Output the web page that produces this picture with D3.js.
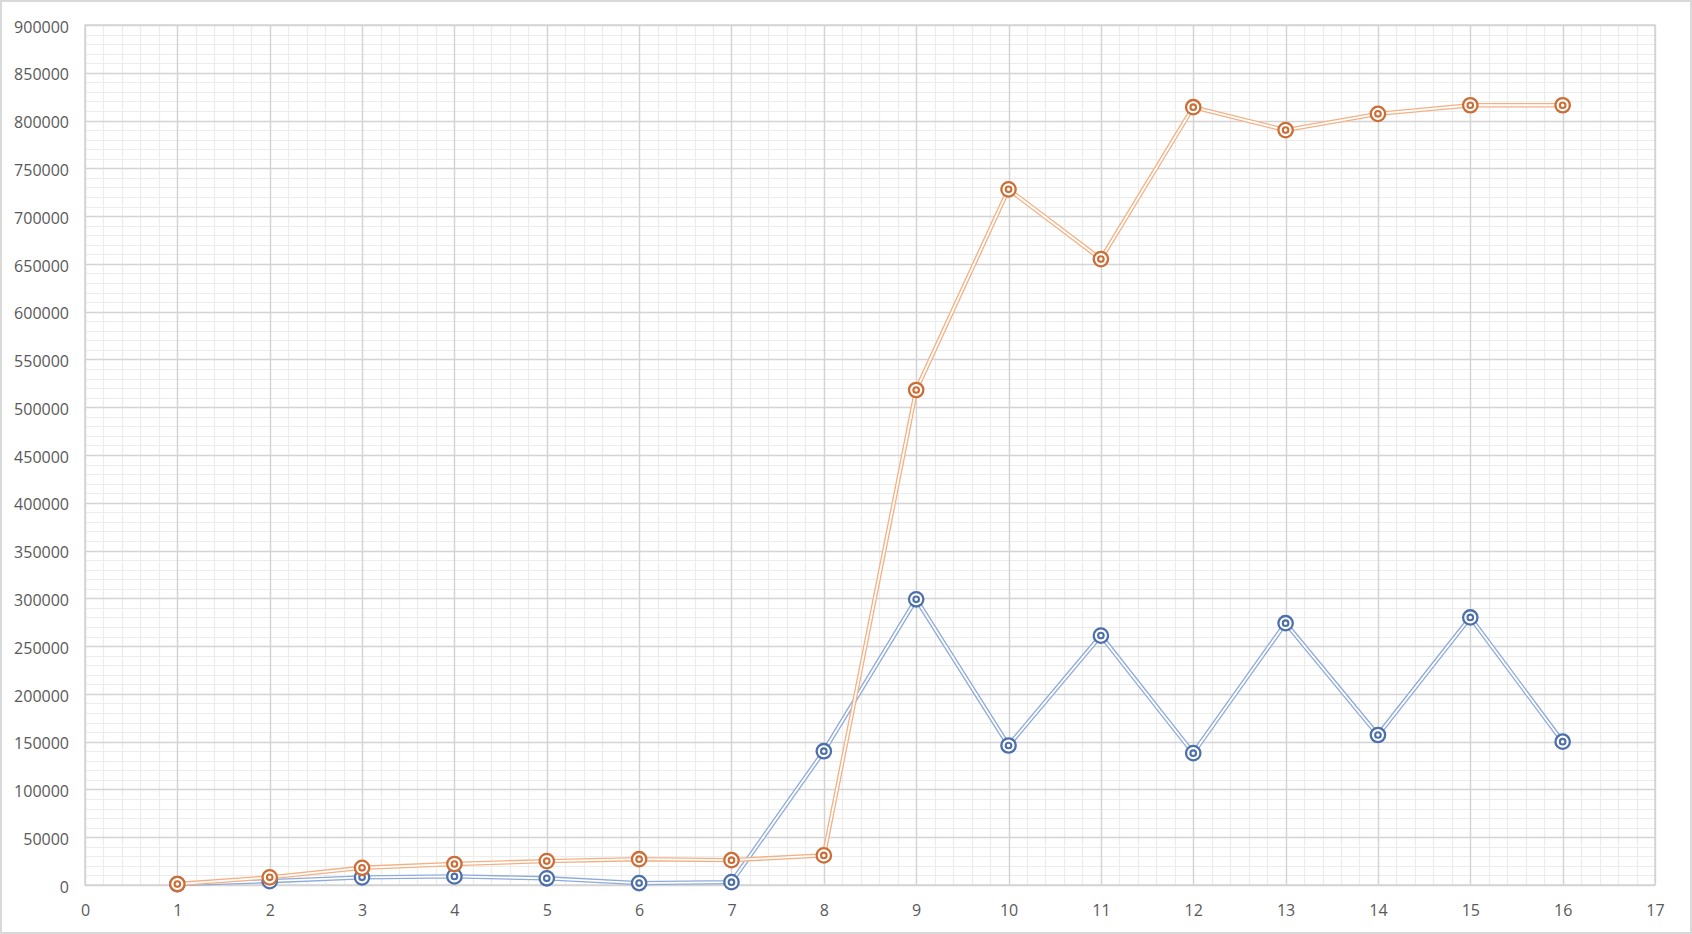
<!DOCTYPE html>
<html>
<head>
<meta charset="utf-8">
<script src="https://cdnjs.cloudflare.com/ajax/libs/d3/7.8.5/d3.min.js"></script>
<style>
  body { margin: 0; background: #fff; }
  text { font-family: "Open Sans", sans-serif; fill: #595959; }
</style>
</head>
<body>
<svg id="chart"></svg>
<script>
const W = 1692, H = 934;
const margin = {top: 25, right: 37, bottom: 49, left: 85};

// data
const xs = [1, 2, 3, 4, 5, 6, 7, 8, 9, 10, 11, 12, 13, 14, 15, 16];
const blueVals = [1000, 4000, 8000, 9000, 7000, 2000, 3000, 140000, 299000, 146000, 261000, 138000, 274000, 157000, 280000, 150000];
const orangeVals = [1000, 8000, 18000, 22000, 25000, 27000, 26000, 31000, 518000, 728000, 655000, 814000, 790000, 807000, 816000, 816000];
const xTicks = d3.range(0, 18);
const yTicks = d3.range(0, 900001, 50000);

const series = [
  {name: 'blue', vals: blueVals, line: '#8eaadb', mark: '#4d70aa'},
  {name: 'orange', vals: orangeVals, line: '#f4b084', mark: '#cd6d36'}
];

const svg = d3.select('#chart').attr('width', W).attr('height', H);

svg.append('rect')
  .attr('x', 1).attr('y', 1).attr('width', W - 2).attr('height', H - 2)
  .attr('fill', '#fff').attr('stroke', '#d9d9d9').attr('stroke-width', 2);

const x = d3.scaleLinear().domain([0, 17]).range([margin.left, W - margin.right]);
const y = d3.scaleLinear().domain([0, 900000]).range([H - margin.bottom, margin.top]);

const grid = svg.append('g');
// minor grid
grid.selectAll('.vminor').data(d3.range(0, 85).map(i => i * 0.2)).enter().append('line')
  .attr('x1', d => Math.round(x(d)) + 0.5).attr('x2', d => Math.round(x(d)) + 0.5)
  .attr('y1', y(0)).attr('y2', y(900000))
  .attr('stroke', '#ececec').attr('stroke-width', 1.2);
grid.selectAll('.hminor').data(d3.range(0, 90).map(i => i * 10000)).enter().append('line')
  .attr('y1', d => Math.round(y(d)) + 0.5).attr('y2', d => Math.round(y(d)) + 0.5)
  .attr('x1', x(0)).attr('x2', x(17))
  .attr('stroke', '#ececec').attr('stroke-width', 1.2);
// major grid
grid.selectAll('.vmajor').data(xTicks).enter().append('line')
  .attr('x1', d => Math.round(x(d)) + 0.5).attr('x2', d => Math.round(x(d)) + 0.5)
  .attr('y1', y(0)).attr('y2', y(900000))
  .attr('stroke', '#d4d4d4').attr('stroke-width', 1.4);
grid.selectAll('.hmajor').data(yTicks).enter().append('line')
  .attr('y1', d => Math.round(y(d)) + 0.5).attr('y2', d => Math.round(y(d)) + 0.5)
  .attr('x1', x(0)).attr('x2', x(17))
  .attr('stroke', '#d4d4d4').attr('stroke-width', 1.4);
grid.append('rect')
  .attr('x', x(0)).attr('y', y(900000))
  .attr('width', x(17) - x(0)).attr('height', y(0) - y(900000))
  .attr('fill', 'none').attr('stroke', '#d4d4d4').attr('stroke-width', 1.5);

// axes
const yAxis = svg.append('g')
  .attr('transform', `translate(${margin.left - 16},2)`)
  .call(d3.axisLeft(y).tickValues(yTicks).tickSize(0).tickPadding(0).tickFormat(d3.format('d')));
yAxis.select('.domain').remove();
yAxis.selectAll('text').style('font-size', '16px').style('font-family', '"Open Sans", sans-serif').attr('fill', '#595959');

const xAxis = svg.append('g')
  .attr('transform', `translate(0,${H - margin.bottom + 20})`)
  .call(d3.axisBottom(x).tickValues(xTicks).tickSize(0).tickPadding(0).tickFormat(d3.format('d')));
xAxis.select('.domain').remove();
xAxis.selectAll('text').style('font-size', '16px').style('font-family', '"Open Sans", sans-serif').attr('fill', '#595959');

const line = d3.line().x((d, i) => x(xs[i])).y(d => y(d));

series.forEach(s => {
  const g = svg.append('g');
  g.append('path').datum(s.vals).attr('d', line)
    .attr('fill', 'none').attr('stroke', s.line).attr('stroke-width', 4.4)
    .attr('stroke-linejoin', 'miter');
  g.append('path').datum(s.vals).attr('d', line)
    .attr('fill', 'none').attr('stroke', '#fff').attr('stroke-width', 1.8)
    .attr('stroke-linejoin', 'miter');
  const m = g.selectAll('.mk').data(s.vals).enter().append('g')
    .attr('transform', (d, i) => `translate(${x(xs[i])},${y(d)})`);
  m.append('circle').attr('r', 7.2).attr('fill', '#fff')
    .attr('stroke', s.mark).attr('stroke-width', 2.3);
  m.append('circle').attr('r', 2.8).attr('fill', '#fff')
    .attr('stroke', s.mark).attr('stroke-width', 2.1);
});
</script>
</body>
</html>
